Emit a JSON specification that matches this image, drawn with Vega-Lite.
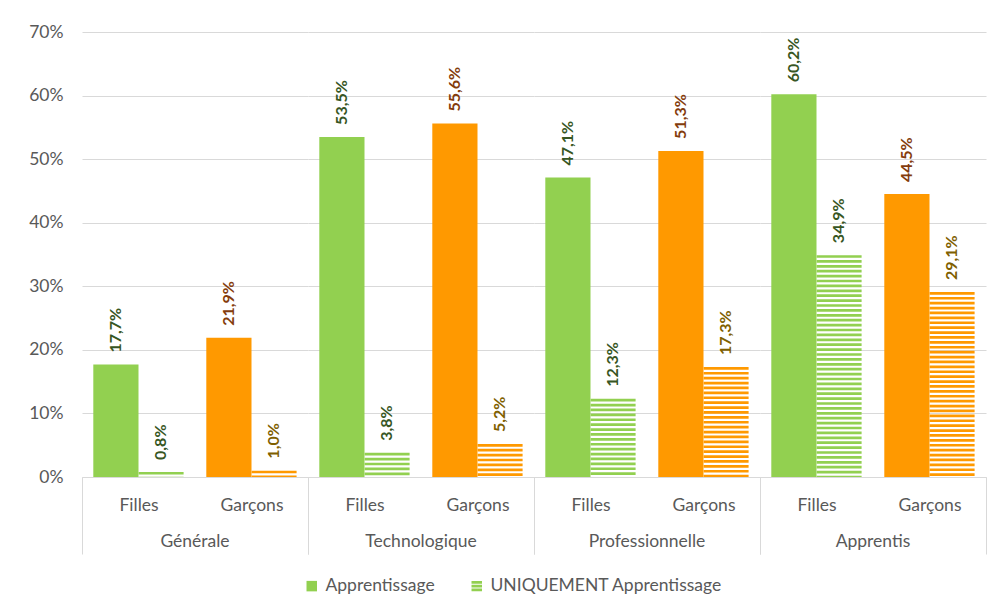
{
  "$schema": "https://vega.github.io/schema/vega-lite/v6.json",
  "background": "white",
  "padding": {"left": 28, "top": 23, "right": 6, "bottom": 4},
  "bounds": "flush",
  "config": {
    "font": "Lato",
    "locale": {"number": {"decimal": ",", "thousands": " ", "grouping": [3], "currency": ["", " €"]}},
    "view": {"stroke": null},
    "axis": {"labelFont": "Lato", "labelFontSize": 17.5, "labelColor": "#595959"}
  },
  "data": {
    "values": [
      {"groupe": "Générale", "sexe": "Filles", "serie": "Apprentissage", "valeur": 0.177},
      {"groupe": "Générale", "sexe": "Filles", "serie": "UNIQUEMENT Apprentissage", "valeur": 0.008},
      {"groupe": "Générale", "sexe": "Garçons", "serie": "Apprentissage", "valeur": 0.219},
      {"groupe": "Générale", "sexe": "Garçons", "serie": "UNIQUEMENT Apprentissage", "valeur": 0.010},
      {"groupe": "Technologique", "sexe": "Filles", "serie": "Apprentissage", "valeur": 0.535},
      {"groupe": "Technologique", "sexe": "Filles", "serie": "UNIQUEMENT Apprentissage", "valeur": 0.038},
      {"groupe": "Technologique", "sexe": "Garçons", "serie": "Apprentissage", "valeur": 0.556},
      {"groupe": "Technologique", "sexe": "Garçons", "serie": "UNIQUEMENT Apprentissage", "valeur": 0.052},
      {"groupe": "Professionnelle", "sexe": "Filles", "serie": "Apprentissage", "valeur": 0.471},
      {"groupe": "Professionnelle", "sexe": "Filles", "serie": "UNIQUEMENT Apprentissage", "valeur": 0.123},
      {"groupe": "Professionnelle", "sexe": "Garçons", "serie": "Apprentissage", "valeur": 0.513},
      {"groupe": "Professionnelle", "sexe": "Garçons", "serie": "UNIQUEMENT Apprentissage", "valeur": 0.173},
      {"groupe": "Apprentis", "sexe": "Filles", "serie": "Apprentissage", "valeur": 0.602},
      {"groupe": "Apprentis", "sexe": "Filles", "serie": "UNIQUEMENT Apprentissage", "valeur": 0.349},
      {"groupe": "Apprentis", "sexe": "Garçons", "serie": "Apprentissage", "valeur": 0.445},
      {"groupe": "Apprentis", "sexe": "Garçons", "serie": "UNIQUEMENT Apprentissage", "valeur": 0.291}
    ]
  },
  "facet": {
    "column": {
      "field": "groupe",
      "sort": ["Générale", "Technologique", "Professionnelle", "Apprentis"],
      "title": null,
      "header": {"labelOrient": "bottom", "labelFont": "Lato", "labelFontSize": 17.5, "labelColor": "#595959", "labelPadding": -22}
    }
  },
  "spacing": 0,
  "spec": {
    "width": 226,
    "height": 445,
    "encoding": {
      "x": {
        "field": "sexe", "type": "nominal", "sort": ["Filles", "Garçons"],
        "scale": {"paddingInner": 0, "paddingOuter": 0},
        "axis": {
          "title": null, "labelAngle": 0, "tickBand": "extent", "tickSize": 77,
          "tickColor": {"condition": {"test": "datum.value === 'Filles' && !datum.extra", "value": "transparent"}, "value": "#d9d9d9"},
          "domainColor": "#d9d9d9", "labelPadding": -58, "labelBaseline": "top"
        }
      },
      "xOffset": {"field": "serie", "type": "nominal", "scale": {"domain": ["Apprentissage", "UNIQUEMENT Apprentissage"], "paddingInner": 0, "paddingOuter": 0.25}},
      "y": {
        "field": "valeur", "type": "quantitative",
        "scale": {"domain": [0, 0.7], "nice": false},
        "axis": {"title": null, "format": ".0%", "values": [0, 0.1, 0.2, 0.3, 0.4, 0.5, 0.6, 0.7], "grid": true, "gridColor": "#d9d9d9", "domain": false, "ticks": false, "labelPadding": 19}
      }
    },
    "layer": [
      {
        "transform": [{"filter": "datum.serie === 'Apprentissage'"}],
        "mark": {"type": "bar"},
        "encoding": {
          "color": {"field": "sexe", "type": "nominal", "scale": {"domain": ["Filles", "Garçons"], "range": ["#92D050", "#FF9900"]}, "legend": null}
        }
      },
      {
        "transform": [{"filter": "datum.serie !== 'Apprentissage'"}],
        "mark": {"type": "rule", "strokeWidth": 45, "strokeDash": [2.7, 2.2], "strokeCap": "butt"},
        "encoding": {
          "y2": {"datum": 0},
          "color": {"field": "sexe", "type": "nominal", "scale": {"domain": ["Filles", "Garçons"], "range": ["#92D050", "#FF9900"]}, "legend": null}
        }
      },
      {
        "mark": {"type": "text", "angle": 270, "align": "left", "baseline": "middle", "dx": 12, "font": "Lato", "fontSize": 16, "fontWeight": "bold"},
        "encoding": {
          "text": {"field": "valeur", "type": "quantitative", "format": ".1%"},
          "color": {"condition": [{"test": "datum.sexe === 'Filles'", "value": "#375623"}, {"test": "datum.serie === 'Apprentissage'", "value": "#843C0C"}], "value": "#7F6000"}
        }
      },
      {
        "mark": {"type": "point", "filled": true, "opacity": 0, "color": "#92D050"},
        "encoding": {
          "shape": {
            "field": "serie", "type": "nominal",
            "scale": {"domain": ["Apprentissage", "UNIQUEMENT Apprentissage"], "range": ["square", "M-1,-1H1V-0.45H-1Z M-1,-0.27H1V0.27H-1Z M-1,0.45H1V1H-1Z"]},
            "legend": {"title": null, "orient": "none", "legendX": 221, "legendY": 545, "direction": "horizontal", "labelFont": "Lato", "labelFontSize": 17.5, "labelColor": "#595959", "labelLimit": 400, "symbolSize": 110, "symbolFillColor": "#92D050", "symbolStrokeWidth": 0, "symbolOpacity": 1, "columnPadding": 33, "labelOffset": 5}
          }
        }
      }
    ]
  }
}
